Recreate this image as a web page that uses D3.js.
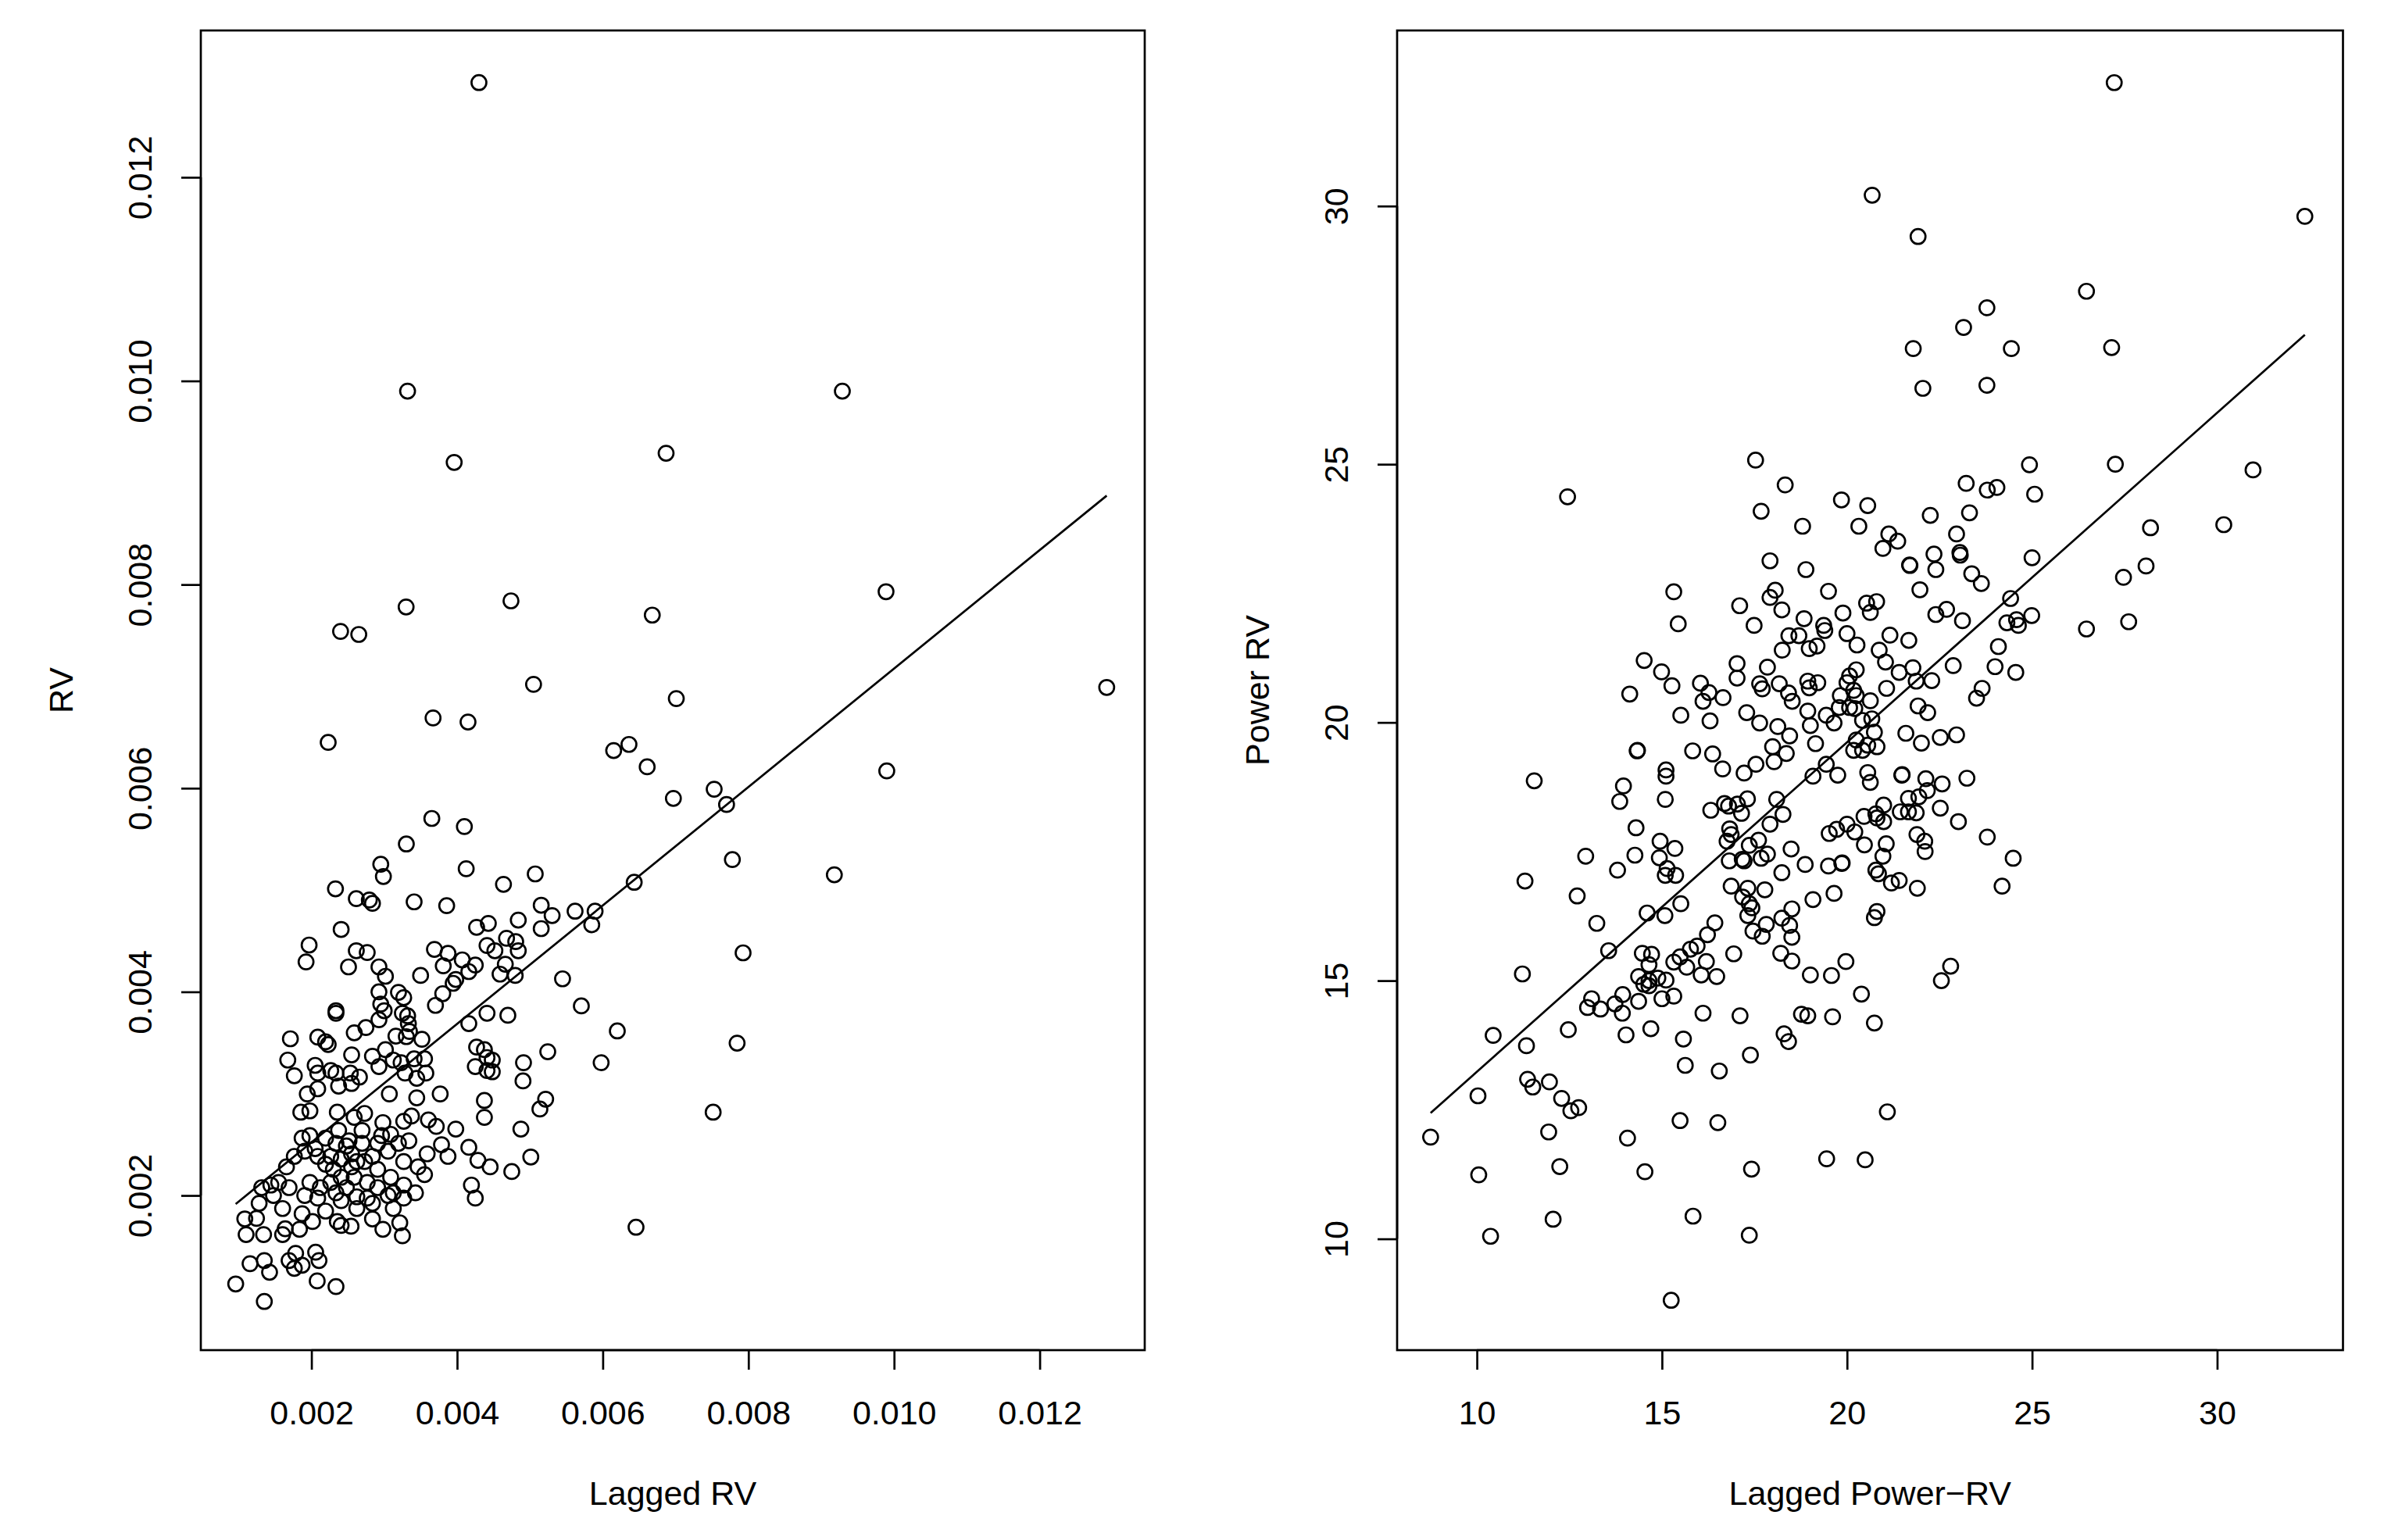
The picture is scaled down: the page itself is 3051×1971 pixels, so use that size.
<!DOCTYPE html>
<html><head><meta charset="utf-8">
<script src="https://cdn.jsdelivr.net/npm/d3@7"></script>
<style>html,body{margin:0;padding:0;background:#fff;} svg{display:block;}</style>
</head><body>
<svg id="chart" width="3051" height="1971"></svg>
<script>
// ---- Data: left panel (Lagged RV, RV) ----
const rvPoints = [
[0.00430,0.01293],[0.00332,0.00990],[0.00929,0.00990],[0.00396,0.00920],[0.00687,0.00929],[0.00989,0.00793],[0.00474,0.00784],[0.00330,0.00778],[0.00668,0.00770],[0.00240,0.00754],[0.00265,0.00751],[0.00505,0.00702],[0.00367,0.00669],[0.00415,0.00665],[0.01292,0.00699],[0.00701,0.00688],[0.00223,0.00645],[0.00615,0.00637],[0.00636,0.00643],[0.00661,0.00621],[0.00990,0.00617],[0.00697,0.00590],[0.00753,0.00599],[0.00770,0.00584],[0.00918,0.00515],
[0.003653,0.005703],[0.004100,0.005623],[0.003303,0.005452],[0.002952,0.005253],[0.002988,0.005133],[0.004125,0.005209],[0.002330,0.005012],[0.002616,0.004915],[0.002795,0.004902],[0.002838,0.004869],[0.003410,0.004884],[0.003857,0.004846],[0.002408,0.004613],[0.001968,0.004460],[0.001926,0.004294],[0.002616,0.004404],[0.002766,0.004386],[0.002509,0.004245],[0.002927,0.004245],[0.003016,0.004153],[0.003499,0.004161],[0.003689,0.004417],[0.003875,0.004378],[0.003810,0.004255],[0.004071,0.004314],[0.004250,0.004263],[0.004161,0.004199],[0.003982,0.004122],[0.003946,0.004084],[0.004268,0.004634],[0.004429,0.004672],[0.004411,0.004455],[0.003803,0.003982],[0.003703,0.003867],[0.002927,0.004000],[0.002952,0.003879],[0.002999,0.003815],[0.002927,0.003726],[0.003195,0.003995],[0.003267,0.003943],[0.003249,0.003790],[0.003321,0.003764],[0.003331,0.003688],[0.003346,0.003611],[0.003303,0.003560],[0.002337,0.003790],[0.002337,0.003815],[0.002588,0.003598],[0.002748,0.003649],[0.003160,0.003565],[0.003517,0.003534],[0.001711,0.003539],[0.002087,0.003555],[0.002194,0.003509],[0.002230,0.003483],[0.001675,0.003330],[0.001765,0.003176],[0.002051,0.003278],[0.002087,0.003202],[0.002265,0.003227],[0.002337,0.003202],[0.002552,0.003381],[0.002534,0.003202],[0.002659,0.003163],[0.002838,0.003368],[0.003016,0.003432],[0.002927,0.003266],[0.003124,0.003330],[0.003231,0.003304],[0.003285,0.003202],[0.003410,0.003342],[0.003553,0.003342],[0.003571,0.003202],[0.003446,0.003151],[0.004161,0.003688],[0.004411,0.003790],[0.004268,0.003457],[0.004375,0.003432],[0.004411,0.003355],[0.004250,0.003266],[0.004411,0.003227],
[0.007780,0.005299],[0.005073,0.005158],[0.004637,0.005056],[0.005155,0.004851],[0.005305,0.004749],[0.005155,0.004621],[0.004840,0.004705],[0.005620,0.004792],[0.005895,0.004792],[0.005849,0.004659],[0.006432,0.005076],[0.004679,0.004526],[0.004805,0.004493],[0.004840,0.004404],[0.004519,0.004404],[0.004662,0.004271],[0.004590,0.004174],[0.004798,0.004161],[0.005448,0.004128],[0.004697,0.003770],[0.005706,0.003862],[0.006200,0.003616],[0.007927,0.004383],[0.007845,0.003496],[0.005245,0.003412],[0.004912,0.003304],[0.004905,0.003125],[0.005978,0.003304],[0.004483,0.003330],[0.004483,0.003215],
[0.007516,0.002818],[0.005216,0.002946],[0.005137,0.002849],[0.004876,0.002652],[0.005012,0.002378],[0.004454,0.002281],[0.004751,0.002235],[0.006457,0.001688],
[0.000960,0.001131],[0.001353,0.000959],[0.001157,0.001330],[0.001353,0.001361],[0.001425,0.001246],[0.001693,0.001361],[0.001783,0.001432],[0.001765,0.001284],[0.001872,0.001315],[0.002058,0.001443],[0.002104,0.001361],[0.002079,0.001161],[0.002337,0.001105],
[0.001103,0.001616],[0.001085,0.001770],[0.001246,0.001775],[0.001343,0.001616],[0.001282,0.001923],[0.001318,0.002077],[0.001443,0.002102],[0.001604,0.001872],[0.001604,0.001616],[0.001640,0.001673],[0.001836,0.001668],[0.001872,0.001821],[0.002015,0.001744],[0.002194,0.001847],[0.002355,0.001744],[0.002408,0.001706],[0.002544,0.001698],[0.002838,0.001770],[0.002981,0.001668],[0.003213,0.001732],[0.003249,0.001604],[0.003124,0.001872],[0.003052,0.002000],[0.002838,0.001923],[0.002623,0.001987],[0.003428,0.002026],[0.003267,0.002102],[0.004197,0.002102],[0.004250,0.001974],[0.003982,0.002652],[0.004161,0.002473],[0.004286,0.002345],[0.004375,0.002933],[0.004375,0.002767],[0.003875,0.002384],[0.003786,0.002499],[0.003714,0.002678],[0.003606,0.002742],[0.003768,0.002997],[0.003589,0.002409],[0.003464,0.002281],[0.003446,0.002959],[0.003374,0.002780],[0.003267,0.002729],[0.003070,0.002997],[0.002981,0.002716],[0.003088,0.002601],[0.003195,0.002512],[0.001854,0.002818],[0.001979,0.002831],[0.001872,0.002563],[0.001979,0.002588],[0.001765,0.002384],[0.001657,0.002281],[0.001908,0.002435],[0.002051,0.002460],[0.002355,0.002818],[0.002730,0.002806],[0.002587,0.002767],[0.001943,0.002997],[0.002086,0.003048],[0.002373,0.003074],[0.002551,0.003100],[0.002963,0.002588],[0.002695,0.002512],[0.002838,0.002384],[0.002909,0.002256],[0.002730,0.002333],[0.002551,0.002281],[0.002408,0.002179],[0.002265,0.002128],[0.002122,0.002077],[0.001979,0.002128],[0.001693,0.002077],[0.001550,0.002128],[0.001479,0.002000],[0.001908,0.002000],[0.002086,0.001974],
[0.002337,0.002512],[0.002480,0.002486],[0.002551,0.002409],[0.002408,0.002358],[0.002265,0.002384],[0.002194,0.002307],[0.002623,0.002333],[0.002516,0.002537],[0.002373,0.002639],[0.002695,0.002639],[0.002194,0.002563],[0.002086,0.002384],[0.002301,0.002256],[0.002587,0.002179],[0.002766,0.002128],[0.002480,0.002077],[0.002337,0.002026],[0.002766,0.001974],[0.002623,0.001872],[0.002408,0.001949],[0.002909,0.002077],[0.003088,0.002179],[0.003267,0.002333],[0.003052,0.002435],[0.002909,0.002512],[0.003338,0.002537],[0.003553,0.002205],[0.003267,0.001974],[0.003124,0.002026]
];

// ---- Data: right panel (Lagged Power-RV, Power RV) ----
const powerPoints = [
[17.53,25.08],[18.33,24.60],[12.45,24.37],[17.68,24.09],[18.80,23.80],[17.92,23.13],[18.89,22.96],[19.50,22.54],[15.32,22.53],[18.06,22.56],[17.92,22.42],[18.24,22.18],[17.10,22.26],[17.49,21.88],[15.44,21.91],[18.84,22.01],[19.37,21.88],[19.40,21.78],[18.43,21.68],[18.70,21.68],[18.25,21.40],[18.98,21.43],[19.19,21.48],[14.52,21.20],[14.99,20.98],[15.27,20.71],[14.13,20.55],[17.03,21.14],[17.03,20.86],[17.85,21.07],[16.04,20.76],[16.27,20.58],[16.11,20.41],[16.65,20.48],[15.51,20.14],[16.30,20.03],[17.29,20.19],[17.64,20.75],[17.71,20.65],[18.17,20.75],[18.42,20.57],[18.52,20.41],[18.94,20.80],[18.98,20.67],[19.21,20.77],[18.94,20.22],[17.64,19.99],[18.13,19.92],[19.01,19.94],[19.44,20.14],
[24.93,24.99],[27.25,25.00],[23.22,24.63],[23.79,24.50],[24.05,24.55],[25.07,24.42],[19.85,24.31],[20.56,24.20],[22.25,24.01],[23.31,24.06],[20.32,23.80],[21.13,23.65],[21.37,23.51],[20.97,23.37],[22.96,23.65],[22.35,23.26],[23.05,23.29],[23.06,23.24],[21.69,23.05],[21.70,23.04],[22.40,22.96],[25.00,23.19],[27.47,22.81],[23.37,22.88],[23.63,22.69],[21.97,22.57],[20.53,22.31],[20.80,22.34],[20.63,22.13],[19.89,22.12],[24.42,22.40],[22.40,22.09],[22.69,22.19],[23.12,21.97],[24.32,21.93],[24.58,21.99],[24.63,21.88],[24.99,22.07],[26.47,21.81],[27.61,21.95],[20.00,21.72],[20.27,21.50],[21.16,21.69],[21.67,21.59],[20.87,21.40],[21.04,21.17],[24.09,21.47],[21.41,20.97],[21.78,21.06],[20.25,21.02],[20.07,20.90],[20.00,20.77],[20.18,20.62],[20.25,20.52],[19.82,20.52],[19.79,20.29],[20.07,20.29],[20.21,20.27],[20.63,20.42],[21.07,20.66],[21.87,20.80],[22.29,20.81],[22.87,21.10],[24.00,21.08],[24.56,20.97],[23.65,20.66],[23.50,20.47],[21.92,20.32],[22.18,20.19],[20.42,20.04],[20.67,20.07],[19.65,19.99],
[18.45,19.74],[14.33,19.45],[14.34,19.46],[15.83,19.45],[16.37,19.39],[16.64,19.10],[17.22,19.02],[17.54,19.19],[18.03,19.24],[17.99,19.53],[18.36,19.40],[19.15,19.59],[11.55,18.87],[15.11,19.08],[15.11,18.96],[13.96,18.77],[13.86,18.47],[15.09,18.51],[16.32,18.30],[16.69,18.43],[16.80,18.38],[17.04,18.42],[17.31,18.52],[17.15,18.24],[18.10,18.51],[18.27,18.22],[17.92,18.03],[19.08,18.96],[19.44,19.19],[14.30,17.96],[14.95,17.70],[15.35,17.56],[14.93,17.38],[15.14,17.17],[15.09,17.04],[15.37,17.04],[16.83,17.94],[16.87,17.83],[16.76,17.70],[17.61,17.72],[17.36,17.62],[17.85,17.45],[17.68,17.37],[16.82,17.32],[17.17,17.35],[17.22,17.32],[18.49,17.55],[18.87,17.25],[19.50,17.22],[19.52,17.85],[18.24,17.09],[12.94,17.41],[13.80,17.14],[14.27,17.43],[11.30,16.93],[12.71,16.64],[13.24,16.11],[14.60,16.31],[15.08,16.26],[15.51,16.49],[16.87,16.83],[17.32,16.79],[17.78,16.76],[17.18,16.62],[17.36,16.49],[17.43,16.41],[17.32,16.26],[19.08,16.57],[18.24,16.21],[18.45,16.07],[18.51,16.39],[17.82,16.09],[17.46,15.96],[17.71,15.86],[18.51,15.84],[13.56,15.58],[16.43,16.12],[16.23,15.89],[15.95,15.67],[15.77,15.61],[15.49,15.46],[15.32,15.36],[15.67,15.26],[16.20,15.37],[16.06,15.11],[16.48,15.08],[14.47,15.53],[14.72,15.51],[14.65,15.31],[14.37,15.08],[14.65,15.00],[14.89,15.05],[15.11,15.01],[14.51,14.93],[14.65,14.90],[16.94,15.52],[18.21,15.53],[18.51,15.38],[19.01,15.11],[11.23,15.13],[13.10,14.65],[12.99,14.48],[13.34,14.45],[13.94,14.73],[13.73,14.55],[13.93,14.37],[14.37,14.60],[15.00,14.65],[15.32,14.70],[16.11,14.37],[17.11,14.32],[18.77,14.35],[18.94,14.32],
[20.18,19.46],[20.42,19.46],[20.56,19.56],[20.81,19.53],[20.25,19.66],[22.01,19.60],[22.52,19.71],[22.96,19.76],[21.59,19.79],[20.74,19.81],[19.75,18.98],[20.56,19.03],[20.63,18.84],[21.48,18.98],[21.49,18.99],[22.13,18.91],[22.57,18.81],[23.24,18.92],[22.17,18.68],[21.94,18.56],[21.66,18.53],[21.44,18.27],[21.66,18.27],[21.87,18.25],[20.99,18.40],[20.78,18.23],[20.81,18.15],[20.99,18.08],[20.46,18.18],[22.52,18.34],[23.01,18.08],[23.79,17.78],[24.49,17.37],[24.19,16.83],[20.00,18.03],[20.21,17.88],[19.72,17.93],[20.47,17.63],[21.06,17.65],[20.97,17.41],[21.89,17.83],[22.10,17.70],[22.11,17.50],[19.86,17.27],[19.87,17.28],[20.78,17.14],[20.85,17.07],[21.20,16.89],[21.41,16.94],[21.90,16.79],[19.65,16.69],[20.81,16.34],[20.74,16.22],[19.97,15.37],[19.58,15.10],[20.39,14.74],[22.80,15.28],[22.55,15.00],[19.61,14.30],[20.74,14.18],
[12.47,14.05],[11.34,13.74],[14.03,13.95],[14.70,14.07],[15.58,13.87],[15.63,13.36],[16.55,13.25],[17.39,13.56],[18.30,13.97],[18.42,13.82],[11.37,13.09],[11.51,12.94],[11.96,13.04],[12.29,12.72],[12.54,12.48],[12.75,12.54],[11.94,12.07],[14.07,11.95],[15.49,12.29],[16.51,12.25],[12.24,11.40],[14.54,11.30],[17.42,11.35],[19.45,11.55],[12.06,10.38],[15.84,10.44],[17.36,10.07],[15.25,8.81],
[21.09,12.46],[20.49,11.53],[10.05,11.24],[10.37,10.05],[8.75,11.97],[10.03,12.77],[10.44,13.94],
[27.22,32.39],[20.68,30.21],[21.92,29.41],[32.37,29.80],[26.47,28.35],[23.78,28.03],[23.15,27.65],[21.79,27.24],[24.44,27.24],[27.15,27.26],[22.05,26.47],[23.78,26.53],
[30.97,24.89],[30.18,23.83],[28.20,23.77],[28.08,23.03]
];

// ---- Axis ticks and fits ----
const rvTicks = [0.002, 0.004, 0.006, 0.008, 0.010, 0.012];
const rvTickLabels = ["0.002", "0.004", "0.006", "0.008", "0.010", "0.012"];
const powerTicks = [10, 15, 20, 25, 30];
const powerTickLabels = ["10", "15", "20", "25", "30"];
const rvFit = { intercept: 0.001358, slope: 0.5817 };
const powerFit = { intercept: 6.856, slope: 0.638 };
const rvDomain = [0.000481, 0.013442];
const powerDomain = [7.845, 33.40];

const svg = d3.select("#chart");
const FONT = "'Liberation Sans', Arial, Helvetica, sans-serif";
const FS = 43;
const LW = 2.7;

function panel(opts) {
  const { x0, x1, y0, y1, pts, domain, ticks, labels, fit, xlab, ylab } = opts;
  const g = svg.append("g");
  const x = d3.scaleLinear().domain(domain).range([x0, x1]);
  const y = d3.scaleLinear().domain(domain).range([y1, y0]);

  // points
  g.append("g").selectAll("circle").data(pts).join("circle")
    .attr("cx", d => x(d[0])).attr("cy", d => y(d[1])).attr("r", 9.5)
    .attr("fill", "none").attr("stroke", "#000").attr("stroke-width", LW);

  // fit line over data range
  const xs = d3.extent(pts, d => d[0]);
  g.append("line")
    .attr("x1", x(xs[0])).attr("y1", y(fit.intercept + fit.slope * xs[0]))
    .attr("x2", x(xs[1])).attr("y2", y(fit.intercept + fit.slope * xs[1]))
    .attr("stroke", "#000").attr("stroke-width", LW);

  // box
  g.append("rect").attr("x", x0).attr("y", y0).attr("width", x1 - x0).attr("height", y1 - y0)
    .attr("fill", "none").attr("stroke", "#000").attr("stroke-width", LW);

  // bottom axis
  const ax = d3.axisBottom(x).tickValues(ticks).tickFormat((d, i) => labels[i]).tickSize(25).tickSizeOuter(0);
  const gb = g.append("g").attr("transform", `translate(0,${y1})`).call(ax);
  gb.select(".domain").attr("stroke-width", LW).attr("d", `M${x(ticks[0])},0H${x(ticks[ticks.length-1])}`);
  gb.selectAll(".tick line").attr("stroke-width", LW);
  gb.selectAll(".tick text").attr("y", 95).attr("dy", null)
    .style("font-family", FONT).style("font-size", FS + "px").attr("fill", "#000");

  // left axis
  const ay = d3.axisLeft(y).tickValues(ticks).tickFormat((d, i) => labels[i]).tickSize(25).tickSizeOuter(0);
  const gl = g.append("g").attr("transform", `translate(${x0},0)`).call(ay);
  gl.select(".domain").attr("stroke-width", LW).attr("d", `M0,${y(ticks[0])}V${y(ticks[ticks.length-1])}`);
  gl.selectAll(".tick line").attr("stroke-width", LW);
  gl.selectAll(".tick text").attr("x", 0).attr("y", -62.7).attr("dy", null)
    .attr("transform", "rotate(-90)").attr("text-anchor", "middle")
    .style("font-family", FONT).style("font-size", FS + "px").attr("fill", "#000");
  g.selectAll(".tick text, .domain").attr("font-family", null);

  // titles
  g.append("text").attr("x", (x0 + x1) / 2).attr("y", y1 + 198).attr("text-anchor", "middle")
    .style("font-family", FONT).style("font-size", FS + "px").text(xlab);
  g.append("text").attr("transform", `translate(${x0 - 164},${(y0 + y1) / 2}) rotate(-90)`)
    .attr("text-anchor", "middle").style("font-family", FONT).style("font-size", FS + "px").text(ylab);
}

panel({ x0: 257, x1: 1465, y0: 39, y1: 1728, pts: rvPoints, domain: rvDomain,
  ticks: rvTicks, labels: rvTickLabels, fit: rvFit, xlab: "Lagged RV", ylab: "RV" });
panel({ x0: 1788, x1: 2998.5, y0: 39, y1: 1728, pts: powerPoints, domain: powerDomain,
  ticks: powerTicks, labels: powerTickLabels, fit: powerFit, xlab: "Lagged Power\u2212RV", ylab: "Power RV" });
</script>
</body></html>
